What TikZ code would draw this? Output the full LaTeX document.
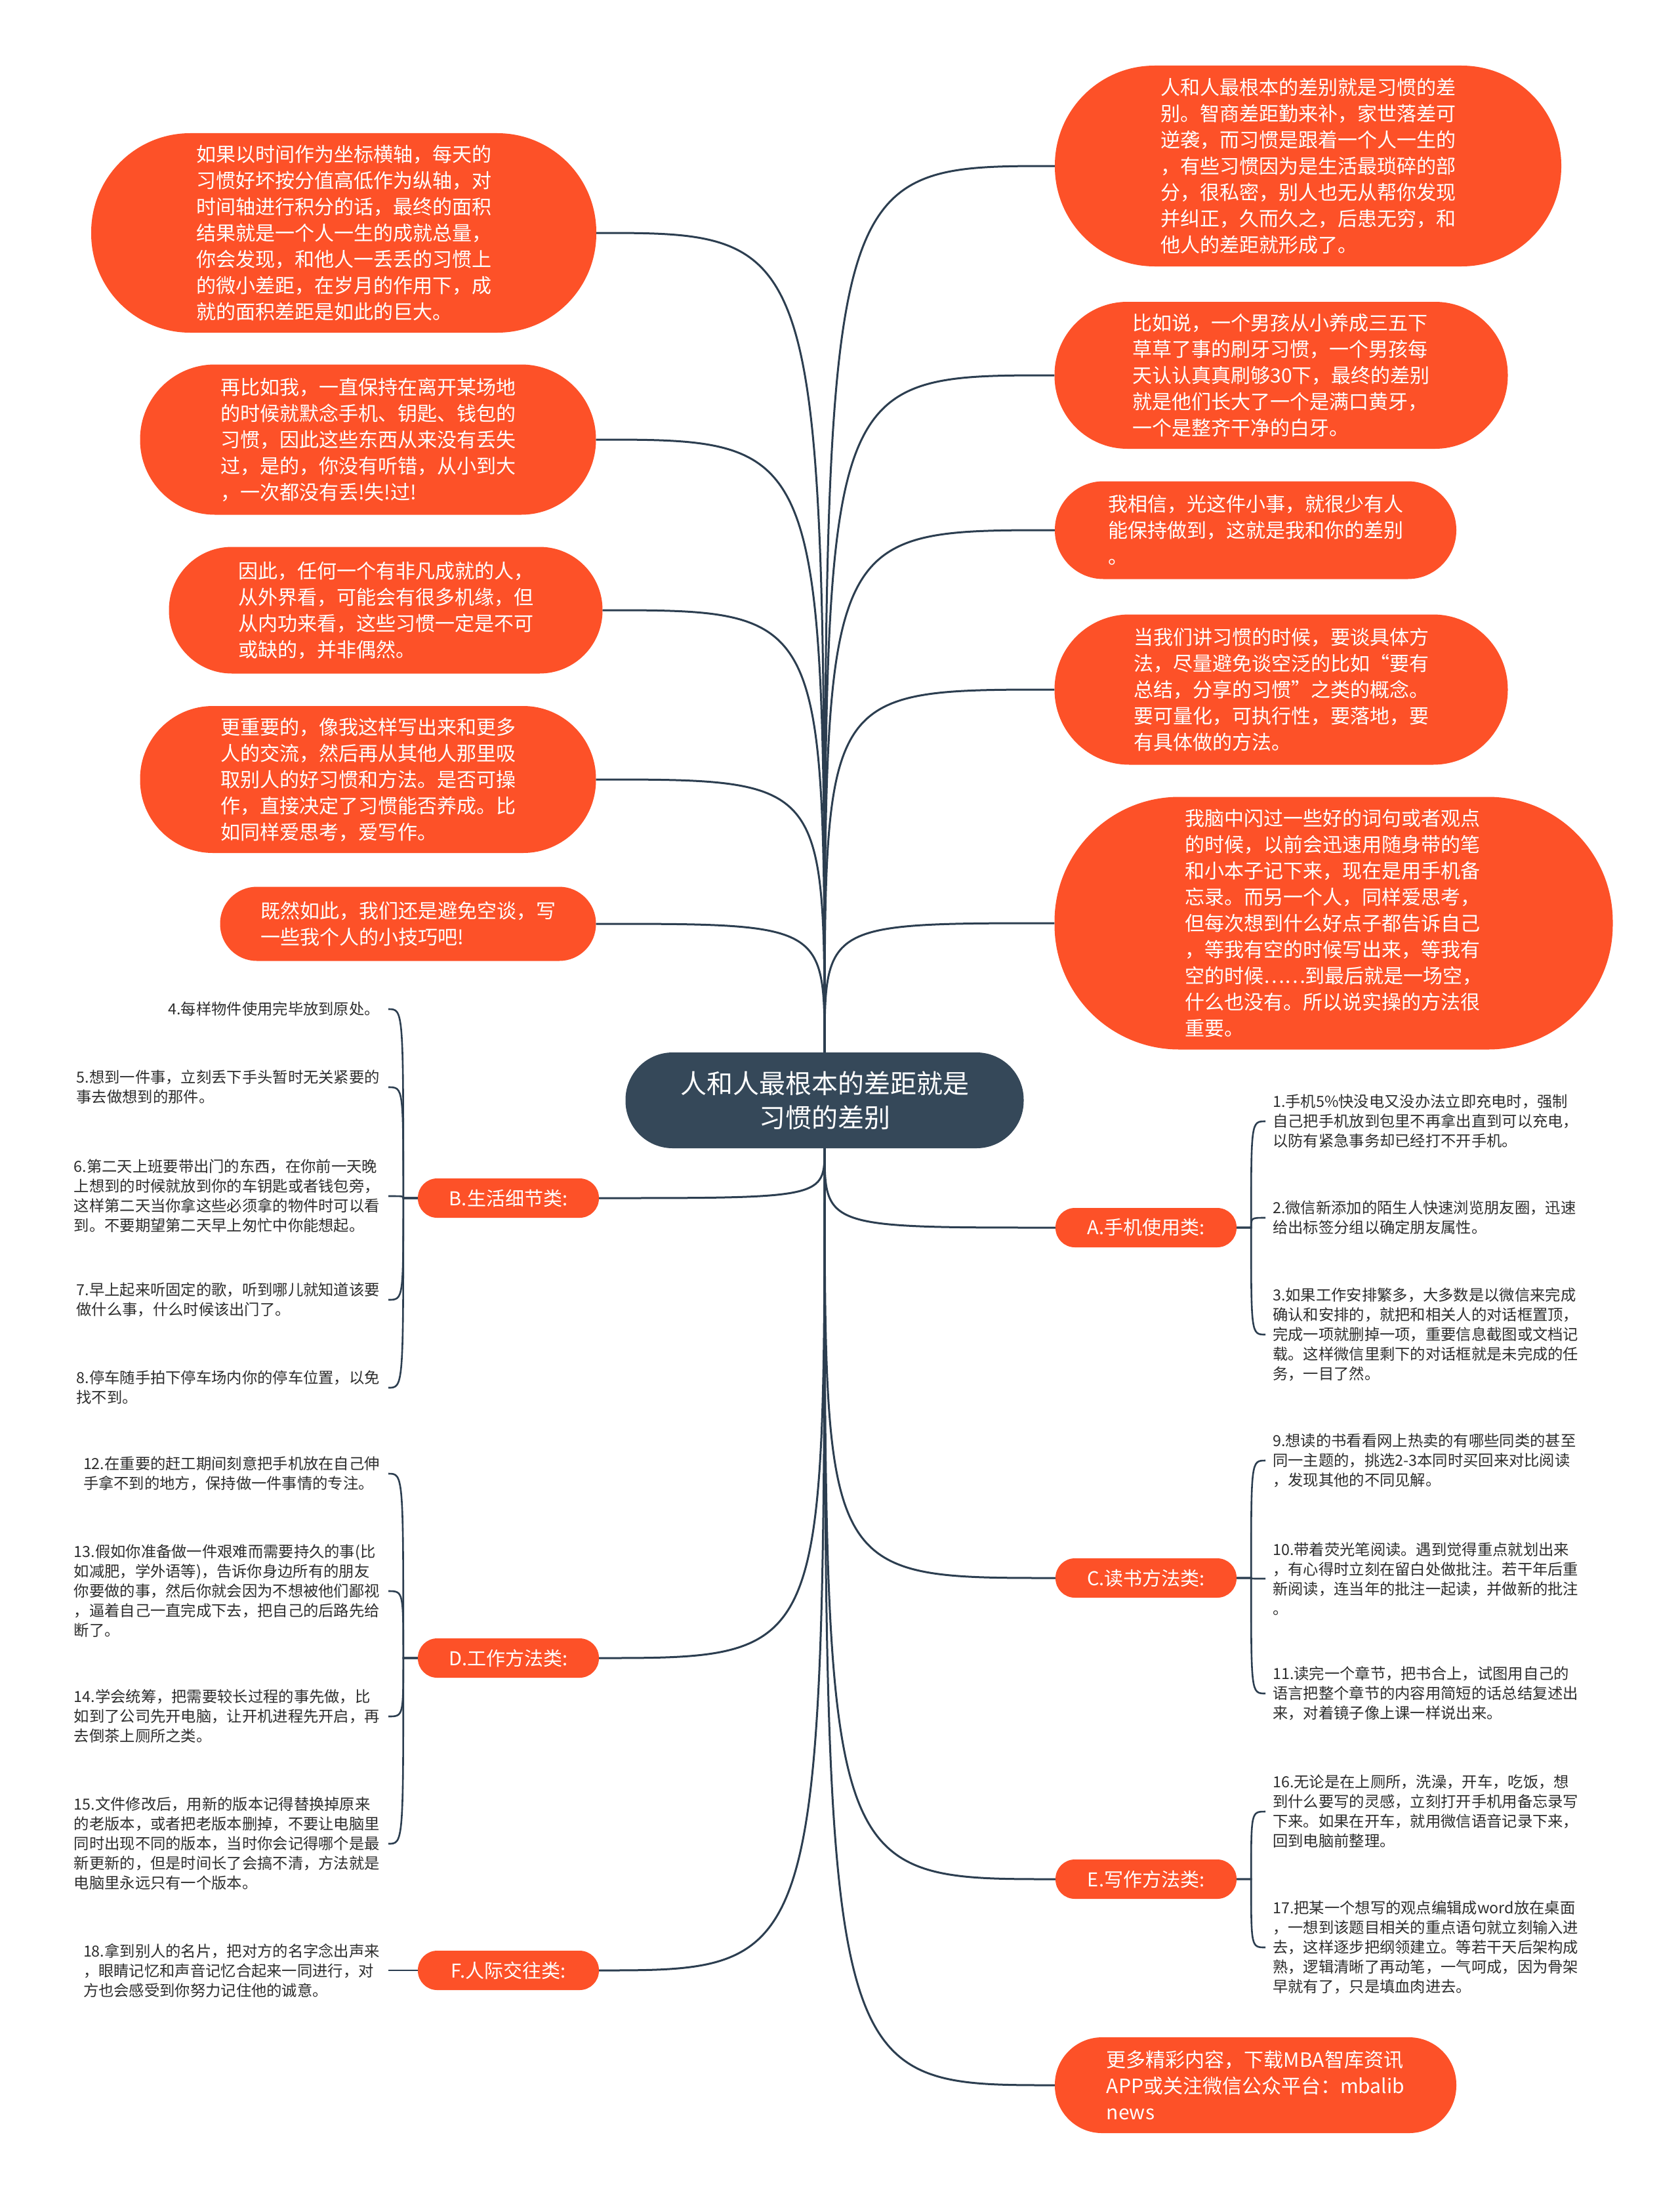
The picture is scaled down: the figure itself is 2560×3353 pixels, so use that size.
\documentclass[tikz,border=0pt]{standalone}
\usepackage{fontspec}
\setmainfont{Noto Sans CJK SC}
\usetikzlibrary{calc}
\definecolor{bub}{RGB}{253,81,40}
\definecolor{hubc}{RGB}{53,72,89}
\definecolor{wire}{RGB}{44,62,80}
\definecolor{leaftxt}{RGB}{45,45,45}
\begin{document}
\begin{tikzpicture}[x=1pt,y=-1pt,
  bubble/.style={fill=bub, text=white, align=left, inner sep=0pt, font=\fontsize{30}{40}\selectfont},
  hubnode/.style={fill=hubc, text=white, align=center, inner sep=0pt, minimum width=607pt, minimum height=146pt, rounded corners=72pt, font=\fontsize{40}{52}\selectfont},
  cat/.style={fill=bub, text=white, inner sep=0pt, minimum width=276pt, minimum height=60pt, rounded corners=29.5pt, font=\fontsize{29}{36}\selectfont},
  leafL/.style={anchor=east, align=left, text=leaftxt, inner xsep=13pt, inner ysep=0pt, font=\fontsize{23.3}{30}\selectfont},
  leafR/.style={anchor=west, align=left, text=leaftxt, inner xsep=11pt, inner ysep=0pt, font=\fontsize{23.3}{30}\selectfont},
  wirel/.style={draw=wire, line width=3pt},
  twig/.style={draw=wire, line width=2.6pt}
]
\useasboundingbox (0,0) rectangle (2560,3353);
\fill[white] (0,0) rectangle (2560,3353);

% hub
\node[hubnode] (hub) at (1257,1677) {人和人最根本的差距就是\\习惯的差别};

% left bubbles
\node[bubble, minimum width=770pt, minimum height=304pt, rounded corners=151pt] (L1) at (524,355) {如果以时间作为坐标横轴，每天的\\习惯好坏按分值高低作为纵轴，对\\时间轴进行积分的话，最终的面积\\结果就是一个人一生的成就总量，\\你会发现，和他人一丢丢的习惯上\\的微小差距，在岁月的作用下，成\\就的面积差距是如此的巨大。};
\node[bubble, minimum width=695pt, minimum height=229pt, rounded corners=114pt] (L2) at (561,670) {再比如我，一直保持在离开某场地\\的时候就默念手机、钥匙、钱包的\\习惯，因此这些东西从来没有丢失\\过，是的，你没有听错，从小到大\\，一次都没有丢!失!过!};
\node[bubble, minimum width=661pt, minimum height=193pt, rounded corners=96pt] (L3) at (588,930) {因此，任何一个有非凡成就的人，\\从外界看，可能会有很多机缘，但\\从内功来看，这些习惯一定是不可\\或缺的，并非偶然。};
\node[bubble, minimum width=695pt, minimum height=224pt, rounded corners=111pt] (L4) at (561,1188) {更重要的，像我这样写出来和更多\\人的交流，然后再从其他人那里吸\\取别人的好习惯和方法。是否可操\\作，直接决定了习惯能否养成。比\\如同样爱思考，爱写作。};
\node[bubble, minimum width=573pt, minimum height=113pt, rounded corners=56pt] (L5) at (622,1408) {既然如此，我们还是避免空谈，写\\一些我个人的小技巧吧!};

% right bubbles
\node[bubble, minimum width=772pt, minimum height=306pt, rounded corners=152pt] (R1) at (1994,253) {人和人最根本的差别就是习惯的差\\别。智商差距勤来补，家世落差可\\逆袭，而习惯是跟着一个人一生的\\，有些习惯因为是生活最琐碎的部\\分，很私密，别人也无从帮你发现\\并纠正，久而久之，后患无穷，和\\他人的差距就形成了。};
\node[bubble, minimum width=691pt, minimum height=224pt, rounded corners=111pt] (R2) at (1953,572) {比如说，一个男孩从小养成三五下\\草草了事的刷牙习惯，一个男孩每\\天认认真真刷够30下，最终的差别\\就是他们长大了一个是满口黄牙，\\一个是整齐干净的白牙。};
\node[bubble, minimum width=612pt, minimum height=149pt, rounded corners=74pt] (R3) at (1914,808) {我相信，光这件小事，就很少有人\\能保持做到，这就是我和你的差别\\。};
\node[bubble, minimum width=691pt, minimum height=229pt, rounded corners=114pt] (R4) at (1953,1051) {当我们讲习惯的时候，要谈具体方\\法，尽量避免谈空泛的比如“要有\\总结，分享的习惯”之类的概念。\\要可量化，可执行性，要落地，要\\有具体做的方法。};
\node[bubble, minimum width=851pt, minimum height=385pt, rounded corners=190pt] (R5) at (2033,1407) {我脑中闪过一些好的词句或者观点\\的时候，以前会迅速用随身带的笔\\和小本子记下来，现在是用手机备\\忘录。而另一个人，同样爱思考，\\但每次想到什么好点子都告诉自己\\，等我有空的时候写出来，等我有\\空的时候……到最后就是一场空，\\什么也没有。所以说实操的方法很\\重要。};
\node[bubble, minimum width=612pt, minimum height=146pt, rounded corners=72pt] (R6) at (1914,3178) {更多精彩内容，下载MBA智库资讯\\APP或关注微信公众平台：mbalib\\news};

% category nodes
\node[cat] (B) at (775,1826) {B.生活细节类:};
\node[cat] (D) at (775,2527) {D.工作方法类:};
\node[cat] (F) at (775,3003) {F.人际交往类:};
\node[cat] (A) at (1747,1871) {A.手机使用类:};
\node[cat] (C) at (1747,2405) {C.读书方法类:};
\node[cat] (E) at (1747,2864) {E.写作方法类:};

% hub connectors (upper)
\foreach \n in {L1,L2,L3,L4,L5} {
  \draw[wirel] (hub.north) .. controls (hub.north |- \n.east) .. (\n.east);
}
\foreach \n in {R1,R2,R3,R4,R5} {
  \draw[wirel] (hub.north) .. controls (hub.north |- \n.west) .. (\n.west);
}
% hub connectors (lower)
\foreach \n in {B,D,F} {
  \draw[wirel] (hub.south) .. controls (hub.south |- \n.east) .. (\n.east);
}
\foreach \n in {A,C,E,R6} {
  \draw[wirel] (hub.south) .. controls (hub.south |- \n.west) .. (\n.west);
}

% B leaves
\node[leafL] (b4) at (592,1538) {4.每样物件使用完毕放到原处。};
\node[leafL] (b5) at (592,1657) {5.想到一件事，立刻丢下手头暂时无关紧要的\\事去做想到的那件。};
\node[leafL] (b6) at (592,1823) {6.第二天上班要带出门的东西，在你前一天晚\\上想到的时候就放到你的车钥匙或者钱包旁，\\这样第二天当你拿这些必须拿的物件时可以看\\到。不要期望第二天早上匆忙中你能想起。};
\node[leafL] (b7) at (592,1981) {7.早上起来听固定的歌，听到哪儿就知道该要\\做什么事，什么时候该出门了。};
\node[leafL] (b8) at (592,2115) {8.停车随手拍下停车场内你的停车位置，以免\\找不到。};
\coordinate (jB) at ($(B.west)+(-22,0)$);
\foreach \n in {b4,b5,b6,b7,b8} {
  \draw[twig] (B.west) -- (jB) .. controls (jB |- \n.east) .. (\n.east);
}

% D leaves
\node[leafL] (d12) at (592,2246) {12.在重要的赶工期间刻意把手机放在自己伸\\手拿不到的地方，保持做一件事情的专注。};
\node[leafL] (d13) at (592,2425) {13.假如你准备做一件艰难而需要持久的事(比\\如减肥，学外语等)，告诉你身边所有的朋友\\你要做的事，然后你就会因为不想被他们鄙视\\，逼着自己一直完成下去，把自己的后路先给\\断了。};
\node[leafL] (d14) at (592,2616) {14.学会统筹，把需要较长过程的事先做，比\\如到了公司先开电脑，让开机进程先开启，再\\去倒茶上厕所之类。};
\node[leafL] (d15) at (592,2810) {15.文件修改后，用新的版本记得替换掉原来\\的老版本，或者把老版本删掉，不要让电脑里\\同时出现不同的版本，当时你会记得哪个是最\\新更新的，但是时间长了会搞不清，方法就是\\电脑里永远只有一个版本。};
\coordinate (jD) at ($(D.west)+(-22,0)$);
\foreach \n in {d12,d13,d14,d15} {
  \draw[twig] (D.west) -- (jD) .. controls (jD |- \n.east) .. (\n.east);
}

% F leaf
\node[leafL] (f18) at (592,3003) {18.拿到别人的名片，把对方的名字念出声来\\，眼睛记忆和声音记忆合起来一同进行，对\\方也会感受到你努力记住他的诚意。};
\draw[twig] (F.west) -- (f18.east);

% A leaves
\node[leafR] (a1) at (1929,1709) {1.手机5\%快没电又没办法立即充电时，强制\\自己把手机放到包里不再拿出直到可以充电，\\以防有紧急事务却已经打不开手机。};
\node[leafR] (a2) at (1929,1856) {2.微信新添加的陌生人快速浏览朋友圈，迅速\\给出标签分组以确定朋友属性。};
\node[leafR] (a3) at (1929,2034) {3.如果工作安排繁多，大多数是以微信来完成\\确认和安排的，就把和相关人的对话框置顶，\\完成一项就删掉一项，重要信息截图或文档记\\载。这样微信里剩下的对话框就是未完成的任\\务，一目了然。};
\coordinate (jA) at ($(A.east)+(22,0)$);
\foreach \n in {a1,a2,a3} {
  \draw[twig] (A.east) -- (jA) .. controls (jA |- \n.west) .. (\n.west);
}

% C leaves
\node[leafR] (c9) at (1929,2226) {9.想读的书看看网上热卖的有哪些同类的甚至\\同一主题的，挑选2-3本同时买回来对比阅读\\，发现其他的不同见解。};
\node[leafR] (c10) at (1929,2406) {10.带着荧光笔阅读。遇到觉得重点就划出来\\，有心得时立刻在留白处做批注。若干年后重\\新阅读，连当年的批注一起读，并做新的批注\\。};
\node[leafR] (c11) at (1929,2581) {11.读完一个章节，把书合上，试图用自己的\\语言把整个章节的内容用简短的话总结复述出\\来，对着镜子像上课一样说出来。};
\coordinate (jC) at ($(C.east)+(22,0)$);
\foreach \n in {c9,c10,c11} {
  \draw[twig] (C.east) -- (jC) .. controls (jC |- \n.west) .. (\n.west);
}

% E leaves
\node[leafR] (e16) at (1929,2761) {16.无论是在上厕所，洗澡，开车，吃饭，想\\到什么要写的灵感，立刻打开手机用备忘录写\\下来。如果在开车，就用微信语音记录下来，\\回到电脑前整理。};
\node[leafR] (e17) at (1929,2968) {17.把某一个想写的观点编辑成word放在桌面\\，一想到该题目相关的重点语句就立刻输入进\\去，这样逐步把纲领建立。等若干天后架构成\\熟，逻辑清晰了再动笔，一气呵成，因为骨架\\早就有了，只是填血肉进去。};
\coordinate (jE) at ($(E.east)+(22,0)$);
\foreach \n in {e16,e17} {
  \draw[twig] (E.east) -- (jE) .. controls (jE |- \n.west) .. (\n.west);
}
\end{tikzpicture}
\end{document}
